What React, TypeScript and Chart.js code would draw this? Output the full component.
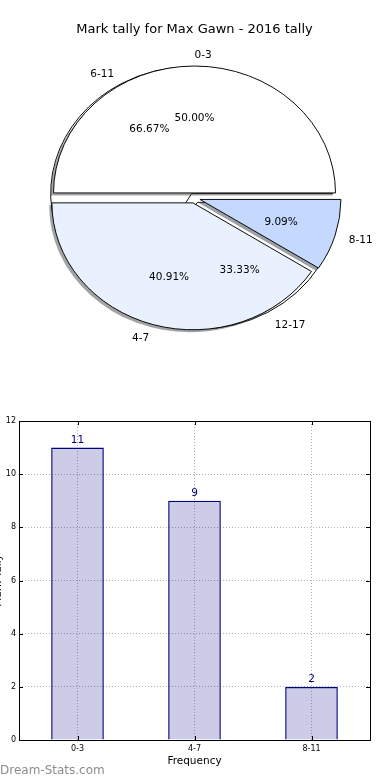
import React, { useEffect, useRef } from 'react';
import { Chart, registerables } from 'chart.js';

Chart.register(...registerables);

const FONT = 'DejaVu Sans';

// ---- data ----
const chartTitle = 'Mark tally for Max Gawn - 2016 tally';
const pieLabels = ['0-3', '4-7', '8-11'];
const pieValues = [11, 9, 2];
const pieColors = ['#ffffff', '#eaf1fe', '#c5d8fe'];
const pie2Labels = ['6-11', '12-17'];
const pie2Values = [2, 1];
const pie2Colors = ['#ffffff', '#ffffff'];
const barLabels = ['0-3', '4-7', '8-11'];
const barValues = [11, 9, 2];
const yMax = 12;
const yStep = 2;
const xTitle = 'Frequency';
const yTitle = 'Mark Tally';
const watermark = 'Dream-Stats.com';

// ---- styling constants ----
const PIE_R = 141;
const EXPLODE = 5.64;
const Y_RATIO = 0.9;
const LABEL_DY = 1.5;
const SHIFT = 9; // bar canvas hangs this far off the left edge

function hexRgb(h: string) {
  const v = parseInt(h.slice(1), 16);
  return [(v >> 16) & 255, (v >> 8) & 255, v & 255];
}

function ellipsePie(shadow: boolean) {
  return {
    id: 'ellipsePie',
    beforeDatasetDraw(chart: any, args: any) {
      const arcs = args.meta.data;
      if (!arcs.length) return false;
      const ctx = chart.ctx;
      const cx = arcs[0].x;
      const cy = arcs[0].y;
      const toEllipse = () => {
        ctx.translate(cx, cy);
        ctx.scale(-1, Y_RATIO);
        ctx.translate(-cx, -cy);
      };
      if (shadow) {
        ctx.save();
        ctx.translate(-2.8, 2.5);
        toEllipse();
        arcs.forEach((arc: any, i: number) => {
          const mid = (arc.startAngle + arc.endAngle) / 2;
          const ox = Math.cos(mid) * EXPLODE;
          const oy = Math.sin(mid) * EXPLODE;
          const [r, g, b] = hexRgb(pieColors[i]).map((c) => Math.round(c * 0.3));
          ctx.fillStyle = `rgba(${r},${g},${b},0.5)`;
          ctx.beginPath();
          ctx.moveTo(arc.x + ox, arc.y + oy);
          ctx.arc(arc.x + ox, arc.y + oy, arc.outerRadius, arc.startAngle, arc.endAngle);
          ctx.closePath();
          ctx.fill();
        });
        ctx.restore();
      }
      ctx.save();
      toEllipse();
      arcs.forEach((arc: any) => {
        const mid = (arc.startAngle + arc.endAngle) / 2;
        ctx.save();
        ctx.translate(Math.cos(mid) * EXPLODE, Math.sin(mid) * EXPLODE);
        arc.draw(ctx, chart.chartArea);
        ctx.restore();
      });
      ctx.restore();
      return false;
    },
  };
}

function pieText(under: any) {
  return {
    id: 'pieText',
    afterDraw(chart: any) {
      const ctx = chart.ctx;
      ctx.save();
      ctx.font = `10.5px "${FONT}"`;
      ctx.fillStyle = '#000';
      ctx.textBaseline = 'middle';
      const drawFor = (c: any, labels: string[], values: number[]) => {
        const arcs = c.getDatasetMeta(0).data;
        const total = values.reduce((a, b) => a + b, 0);
        arcs.forEach((arc: any, i: number) => {
          const mid = (arc.startAngle + arc.endAngle) / 2;
          const dx = -Math.cos(mid);
          const dy = Math.sin(mid) * Y_RATIO;
          const R = arc.outerRadius;
          const d1 = EXPLODE + 1.1 * R;
          ctx.textAlign = dx > -1e-6 ? 'left' : 'right';
          ctx.fillText(labels[i], arc.x + dx * d1, arc.y + dy * d1 + LABEL_DY);
          const d2 = EXPLODE + 0.6 * R;
          ctx.textAlign = 'center';
          ctx.fillText(((values[i] / total) * 100).toFixed(2) + '%', arc.x + dx * d2, arc.y + dy * d2 + LABEL_DY);
        });
      };
      drawFor(chart, pieLabels, pieValues);
      drawFor(under, pie2Labels, pie2Values);
      ctx.restore();
    },
  };
}

const barDecor = {
  id: 'barDecor',
  afterDraw(chart: any) {
    const { ctx, chartArea: a } = chart;
    ctx.save();
    ctx.strokeStyle = '#000';
    ctx.lineWidth = 1;
    const ys = chart.scales.y;
    ys.ticks.forEach((t: any) => {
      const y = Math.round(ys.getPixelForValue(t.value)) + 0.5;
      ctx.beginPath();
      ctx.moveTo(a.left, y);
      ctx.lineTo(a.left + 4, y);
      ctx.moveTo(a.right - 4, y);
      ctx.lineTo(a.right, y);
      ctx.stroke();
    });
    const xs = chart.scales.x;
    xs.ticks.forEach((_t: any, i: number) => {
      const x = Math.round(xs.getPixelForTick(i)) + 0.5;
      ctx.beginPath();
      ctx.moveTo(x, a.bottom);
      ctx.lineTo(x, a.bottom - 4);
      ctx.moveTo(x, a.top);
      ctx.lineTo(x, a.top + 4);
      ctx.stroke();
    });
    ctx.strokeRect(Math.round(a.left) + 0.5, Math.round(a.top) + 0.5, Math.round(a.right - a.left), Math.round(a.bottom - a.top));
    ctx.font = `10.5px "${FONT}"`;
    ctx.fillStyle = '#000080';
    ctx.textAlign = 'center';
    ctx.textBaseline = 'bottom';
    chart.getDatasetMeta(0).data.forEach((bar: any, i: number) => {
      ctx.fillText(String(barValues[i]), bar.x, bar.y - 2);
    });
    ctx.font = `12px "${FONT}"`;
    ctx.fillStyle = '#8c8c8c';
    ctx.textAlign = 'left';
    ctx.textBaseline = 'middle';
    ctx.fillText(watermark, SHIFT, 371);
    ctx.restore();
  },
};

function pieOptions(showTitle: boolean): any {
  return {
    responsive: false,
    animation: false,
    events: [],
    rotation: -90,
    layout: { padding: { left: 0, right: 1, top: 0, bottom: 41.6 } },
    plugins: {
      legend: { display: false },
      tooltip: { enabled: false },
      title: {
        display: true,
        text: chartTitle,
        color: showTitle ? '#000' : 'rgba(0,0,0,0)',
        font: { family: FONT, size: 13, weight: 'normal' },
        padding: { top: 22, bottom: 0 },
      },
    },
  };
}

export default function App() {
  const pie2Ref = useRef<HTMLCanvasElement>(null);
  const pie1Ref = useRef<HTMLCanvasElement>(null);
  const barRef = useRef<HTMLCanvasElement>(null);

  useEffect(() => {
    Chart.defaults.font.family = FONT;
    const under = new Chart(pie2Ref.current as HTMLCanvasElement, {
      type: 'pie',
      data: {
        labels: pie2Labels,
        datasets: [{ data: pie2Values, backgroundColor: pie2Colors, borderColor: '#000', borderWidth: 1, radius: PIE_R } as any],
      },
      options: pieOptions(false),
      plugins: [ellipsePie(false)],
    });
    const over = new Chart(pie1Ref.current as HTMLCanvasElement, {
      type: 'pie',
      data: {
        labels: pieLabels,
        datasets: [{ data: pieValues, backgroundColor: pieColors, borderColor: '#000', borderWidth: 1, radius: PIE_R } as any],
      },
      options: pieOptions(true),
      plugins: [ellipsePie(true), pieText(under)],
    });
    const gridColor = '#b0b0b0';
    const bar = new Chart(barRef.current as HTMLCanvasElement, {
      type: 'bar',
      data: {
        labels: barLabels,
        datasets: [
          {
            data: barValues,
            backgroundColor: 'rgba(0,0,128,0.2)',
            borderColor: '#000080',
            borderWidth: 1.3,
            barPercentage: 0.45,
            categoryPercentage: 1,
          },
        ],
      },
      options: {
        responsive: false,
        animation: false,
        events: [],
        layout: { padding: { left: 0, right: 20, top: 21, bottom: 0 } },
        plugins: { legend: { display: false }, tooltip: { enabled: false } },
        scales: {
          x: {
            z: 1,
            offset: true,
            grid: { offset: false, color: gridColor, lineWidth: 1, drawTicks: false },
            border: { display: false, dash: [1, 2] },
            ticks: { color: '#000', font: { size: 8 }, padding: 4, maxRotation: 0 },
            title: { display: true, text: xTitle, color: '#000', font: { size: 10.5 }, padding: { top: 0, bottom: 12.7 } },
            afterFit: (s: any) => {
              s.height = 40;
            },
          },
          y: {
            z: 1,
            min: 0,
            max: yMax,
            grid: { color: gridColor, lineWidth: 1, drawTicks: false },
            border: { display: false, dash: [1, 2] },
            ticks: { stepSize: yStep, color: '#000', font: { size: 8 }, padding: 3 },
            title: { display: true, text: yTitle, color: '#000', font: { size: 10.5 }, padding: { top: 1, bottom: 0 } },
            afterFit: (s: any) => {
              s.width = 19 + SHIFT;
            },
          },
        } as any,
      },
      plugins: [barDecor],
    });
    return () => {
      over.destroy();
      under.destroy();
      bar.destroy();
    };
  }, []);

  return (
    <div style={{ position: 'absolute', left: 0, top: 0, width: 390, height: 780, overflow: 'hidden', background: '#fff' }}>
      <canvas ref={pie2Ref} width={390} height={400} style={{ position: 'absolute', left: 0, top: 0 }} />
      <canvas ref={pie1Ref} width={390} height={400} style={{ position: 'absolute', left: 0, top: 0 }} />
      <canvas ref={barRef} width={390 + SHIFT} height={380} style={{ position: 'absolute', left: -SHIFT, top: 400 }} />
    </div>
  );
}
